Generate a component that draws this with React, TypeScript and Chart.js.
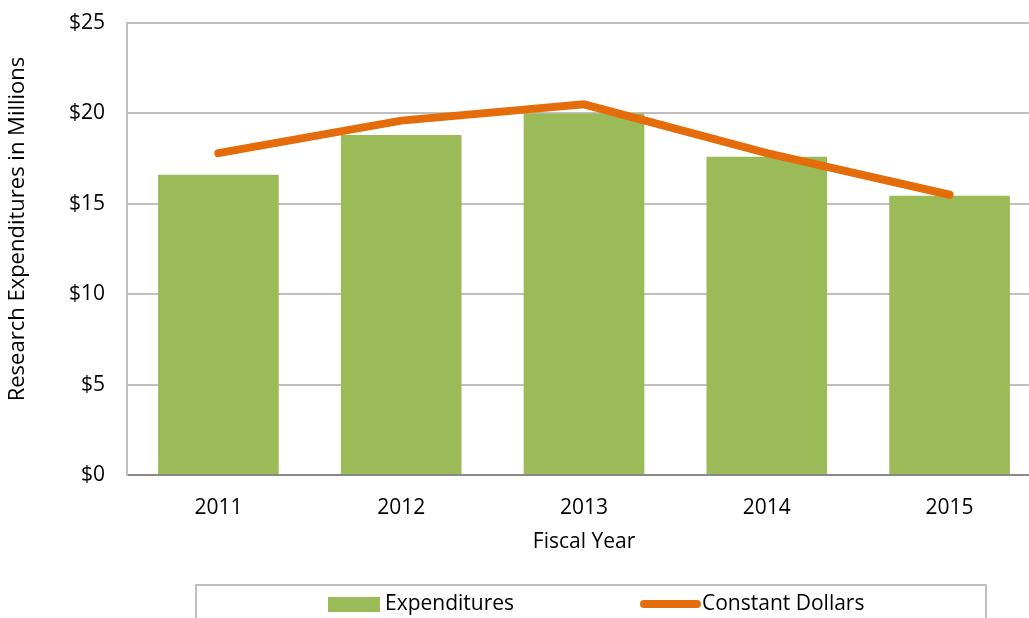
import React, { useEffect, useRef } from "react";
import { Chart, registerables } from "chart.js";

Chart.register(...registerables);

const categories = ["2011", "2012", "2013", "2014", "2015"];
const expenditures = [16.6, 18.8, 20.0, 17.6, 15.45];
const constantDollars = [17.8, 19.6, 20.5, 17.8, 15.5];
const yTicks = [0, 5, 10, 15, 20, 25];
const yTitle = "Research Expenditures in Millions";
const xTitle = "Fiscal Year";

const FONT = "'Open Sans', sans-serif";
const GREEN = "#9BBB59";
const ORANGE = "#E46C0A";
const GRID = "#BFBFBF";
const AXIS = "#898989";

const textPlugin = {
  id: "textAndLegend",
  afterDraw(chart: any) {
    const ctx = chart.ctx;
    ctx.save();
    ctx.font = `22px ${FONT}`;
    ctx.fillStyle = "#000";
    ctx.textAlign = "center";
    ctx.textBaseline = "middle";
    ctx.save();
    ctx.translate(18, 229);
    ctx.rotate(-Math.PI / 2);
    ctx.fillText(yTitle, 0, 0);
    ctx.restore();
    ctx.strokeStyle = GRID;
    ctx.lineWidth = 2;
    ctx.strokeRect(196, 585, 790, 60);
    const ds = chart.data.datasets;
    const bar = ds.find((d: any) => d.type === "bar");
    const line = ds.find((d: any) => d.type === "line");
    ctx.font = `21px ${FONT}`;
    ctx.textAlign = "left";
    const cy = 604;
    ctx.fillStyle = bar.backgroundColor;
    ctx.fillRect(328, cy - 7, 52, 15);
    ctx.fillStyle = "#000";
    ctx.fillText(bar.label, 385, cy);
    ctx.strokeStyle = line.borderColor;
    ctx.lineWidth = 8;
    ctx.lineCap = "round";
    ctx.beginPath();
    ctx.moveTo(644, cy);
    ctx.lineTo(697, cy);
    ctx.stroke();
    ctx.fillText(line.label, 702, cy);
    ctx.restore();
  },
};

export default function App() {
  const canvasRef = useRef<HTMLCanvasElement | null>(null);

  useEffect(() => {
    const canvas = canvasRef.current;
    if (!canvas) return;
    const chart = new Chart(canvas, {
      type: "bar",
      data: {
        labels: categories,
        datasets: [
          {
            type: "line",
            label: "Constant Dollars",
            data: constantDollars,
            borderColor: ORANGE,
            backgroundColor: ORANGE,
            borderWidth: 8,
            pointRadius: 0,
            borderCapStyle: "round",
            borderJoinStyle: "miter",
            tension: 0,
            order: 0,
          } as any,
          {
            type: "bar",
            label: "Expenditures",
            data: expenditures,
            backgroundColor: GREEN,
            barPercentage: 0.66,
            categoryPercentage: 1,
            order: 1,
          },
        ],
      },
      options: {
        animation: false,
        responsive: false,
        layout: { padding: { top: 23, right: 4, left: 0, bottom: 0 } },
        plugins: {
          legend: { display: false },
          tooltip: { enabled: false },
        },
        scales: {
          x: {
            grid: { display: false },
            border: { display: true, color: AXIS, width: 2 },
            ticks: { color: "#000", font: { family: FONT, size: 21 }, padding: 12 },
            title: {
              display: true,
              text: xTitle,
              color: "#000",
              font: { family: FONT, size: 21 },
              padding: { top: 0, bottom: 63 },
            },
            afterFit(scale: any) {
              scale.height = 143;
              scale.paddingLeft = 0;
              scale.paddingRight = 0;
            },
          },
          y: {
            min: 0,
            max: 25,
            afterBuildTicks(scale: any) {
              scale.ticks = yTicks.map((v) => ({ value: v }));
            },
            grid: {
              color: GRID,
              lineWidth: 2,
              drawTicks: false,
            },
            border: { display: true, color: GRID, width: 2 },
            ticks: {
              color: "#000",
              font: { family: FONT, size: 21 },
              padding: 22,
              callback: (v: any) => "$" + v,
            },
            title: { display: false },
            afterFit(scale: any) {
              scale.width = 127;
              scale.paddingTop = 0;
              scale.paddingBottom = 0;
            },
          },
        },
      },
      plugins: [textPlugin],
    });
    return () => chart.destroy();
  }, []);

  return (
    <div style={{ position: "fixed", left: 0, top: 0, width: 1029, height: 618, overflow: "hidden", background: "#fff" }}>
      <canvas ref={canvasRef} width={1045} height={618} style={{ display: "block" }} />
    </div>
  );
}
